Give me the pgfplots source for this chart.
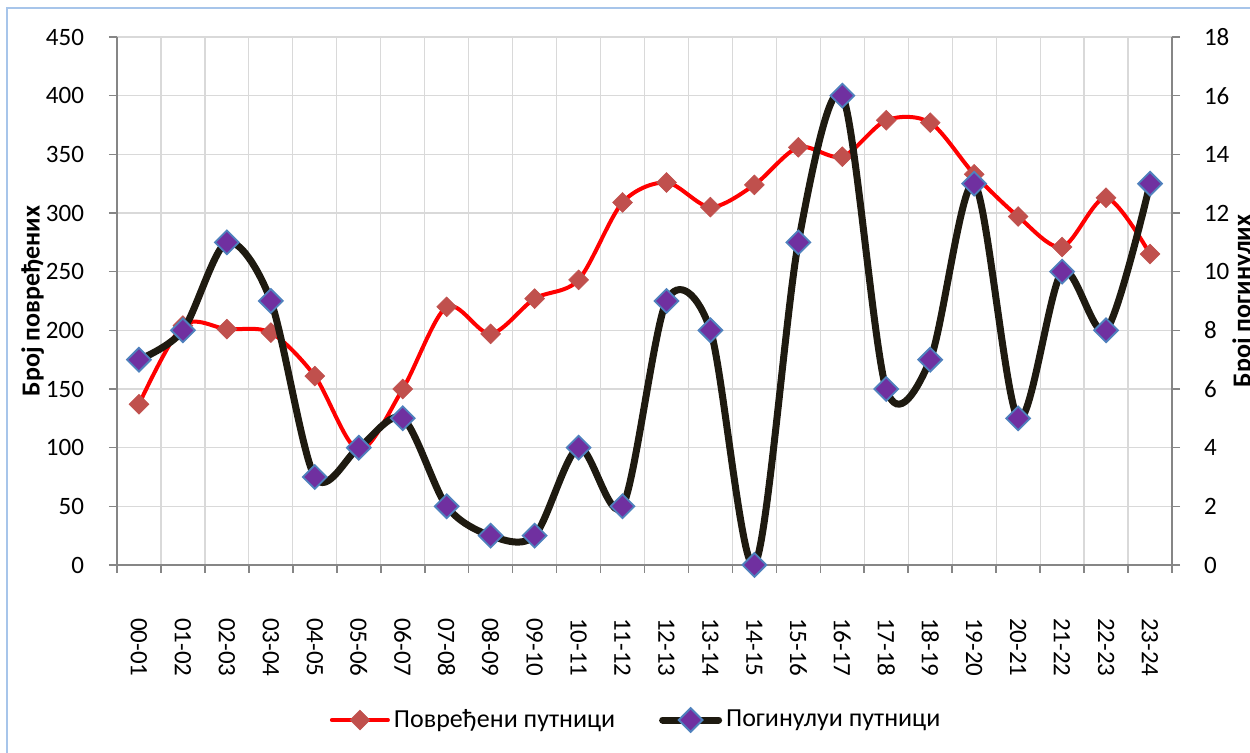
\documentclass[border=0pt]{standalone}
\usepackage{fontspec}
\setmainfont{Carlito}
\usepackage{pgfplots}
\pgfplotsset{compat=1.18}
\definecolor{redline}{HTML}{FF0000}
\definecolor{redmark}{HTML}{C0504D}
\definecolor{blackline}{HTML}{1E1A10}
\definecolor{purplemark}{HTML}{7030A0}
\definecolor{bluemark}{HTML}{4F81BD}
\definecolor{gridgray}{HTML}{D9D9D9}
\definecolor{axisgray}{HTML}{868686}
\definecolor{framblue}{HTML}{A7C5EA}
\pgfplotstableread{
x r
0 137
1 204
2 201
3 198
4 161
5 98
6 150
7 220
8 197
9 227
10 243
11 309
12 326
13 305
14 324
15 356
16 348
17 379
18 377
19 333
20 297
21 271
22 313
23 265
}\redtab
\pgfplotstableread{
x b
0 7
1 8
2 11
3 9
4 3
5 4
6 5
7 2
8 1
9 1
10 4
11 2
12 9
13 8
14 0
15 11
16 16
17 6
18 7
19 13
20 5
21 10
22 8
23 13
}\blacktab
\begin{document}
\begin{tikzpicture}
\path[use as bounding box] (0,0) rectangle (625pt,376.5pt);
\draw[framblue, line width=1pt] (3.5pt,-5pt) -- (3.5pt,372.5pt) -- (630pt,372.5pt);
\pgfplotsset{
  redstyle/.style={redline, line width=2pt, smooth, tension=0.5,
    mark=square*, mark size=3.5pt, mark options={rotate=45, fill=redmark, draw=redmark, line width=0.3pt}},
  blackstyle/.style={blackline, line width=3.5pt, smooth, tension=0.5,
    mark=square*, mark size=4.2pt, mark options={rotate=45, fill=purplemark, draw=bluemark, line width=0.9pt}},
  common/.style={
    at={(58.5pt,94pt)}, anchor=south west,
    width=527.5pt, height=264pt, scale only axis,
    xmin=-0.5, xmax=23.5, clip=false,
    axis line style={axisgray, line width=0.8pt},
    tick style={axisgray, line width=0.8pt},
    tick align=outside,
    /pgf/number format/assume math mode=true,
    tick label style={font=\fontsize{12.5}{14}\selectfont},
  },
}
\begin{axis}[common,
  axis x line*=bottom, axis y line*=left,
  ymin=0, ymax=450, ytick={0,50,...,450},
  ymajorgrids, xminorgrids,
  major grid style={gridgray, line width=0.6pt},
  minor grid style={gridgray, line width=0.6pt},
  xtick={0,...,23},
  xticklabels={00-01,01-02,02-03,03-04,04-05,05-06,06-07,07-08,08-09,09-10,10-11,11-12,12-13,13-14,14-15,15-16,16-17,17-18,18-19,19-20,20-21,21-22,22-23,23-24},
  major x tick style={draw=none},
  minor xtick={-0.5,0.5,...,23.5},
  minor tick length=4pt, major tick length=4pt,
  x tick label style={yshift=-19pt, rotate=-90, anchor=west},
  y tick label style={xshift=-9pt},
]
\addplot[redstyle] table[x=x,y=r] {\redtab};
\end{axis}
\begin{axis}[common,
  axis y line*=right, axis x line=none,
  ymin=0, ymax=18, ytick={0,2,...,18},
  major tick length=4pt,
  y tick label style={xshift=8.5pt},
  legend columns=2,
  legend style={at={(0.493,-0.2936)}, anchor=center, draw=none, fill=none,
    font=\fontsize{13}{15}\selectfont,
    /tikz/every even column/.append style={column sep=20pt},
    inner sep=0pt},
  legend image code/.code={\draw[mark repeat=2, mark phase=2, line cap=round, #1] plot coordinates {(0pt,0pt) (14pt,0pt) (28pt,0pt)};},
]
\addlegendimage{redstyle, smooth=false}
\addlegendentry{Повређени путници}
\addplot[blackstyle] table[x=x,y=b] {\blacktab};
\addlegendentry{Погинулуи путници}
\end{axis}
\node[rotate=90, anchor=north, inner sep=0pt, font=\bfseries\fontsize{13}{15}\selectfont] at (10.5pt,226pt) {Број повређених};
\node[rotate=90, anchor=north, inner sep=0pt, font=\bfseries\fontsize{13}{15}\selectfont] at (616pt,226pt) {Број погинулих};
\end{tikzpicture}
\end{document}
